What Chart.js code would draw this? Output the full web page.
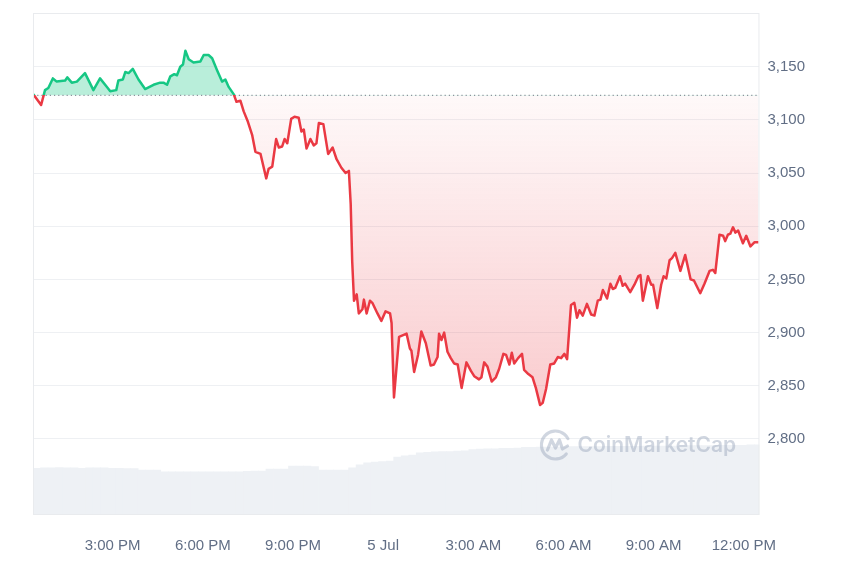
<!DOCTYPE html>
<html>
<head>
<meta charset="utf-8">
<script src="https://cdn.jsdelivr.net/npm/chart.js@4.4.1/dist/chart.umd.min.js"></script>
<style>
  html, body { margin: 0; padding: 0; background: #fff; }
  #wrap { width: 850px; height: 567px; }
</style>
</head>
<body>
<div id="wrap"><canvas id="chart" width="850" height="567"></canvas></div>
<script>
// open price of the 24h window (dotted line)
const baseline = 3123;
const xMin = 12.35, xMax = 36.52; // hours since 00:00 on 4 Jul

const priceTimes = [
  12.36, 12.62, 12.75, 12.86, 13.01, 13.14, 13.42, 13.49, 13.64, 13.81,
  14.08, 14.36, 14.58, 14.81, 14.92, 15.12, 15.19, 15.34, 15.42, 15.53,
  15.67, 15.86, 16.08, 16.36, 16.58, 16.69, 16.81, 16.92, 17.05, 17.14,
  17.25, 17.34, 17.42, 17.53, 17.69, 17.92, 18.03, 18.19, 18.31, 18.47,
  18.64, 18.75, 18.86, 19.03, 19.12, 19.25, 19.36, 19.49, 19.64, 19.75,
  19.92, 20.11, 20.19, 20.31, 20.44, 20.53, 20.64, 20.72, 20.81, 20.94,
  21.05, 21.19, 21.28, 21.36, 21.45, 21.58, 21.69, 21.78, 21.86, 22.01,
  22.17, 22.32, 22.45, 22.61, 22.75, 22.86, 22.92, 22.97, 23.03, 23.12,
  23.19, 23.31, 23.36, 23.45, 23.56, 23.64, 23.81, 23.94, 24.08, 24.23,
  24.28, 24.36, 24.53, 24.78, 24.89, 24.94, 25.03, 25.16, 25.27, 25.42,
  25.58, 25.69, 25.81, 25.86, 25.94, 26.03, 26.14, 26.25, 26.36, 26.48,
  26.61, 26.77, 26.92, 27.03, 27.19, 27.27, 27.36, 27.47, 27.61, 27.75,
  27.86, 28.00, 28.09, 28.20, 28.28, 28.36, 28.49, 28.62, 28.69, 28.83,
  28.97, 29.08, 29.22, 29.31, 29.42, 29.56, 29.69, 29.81, 29.92, 30.03,
  30.12, 30.25, 30.36, 30.45, 30.53, 30.64, 30.78, 30.92, 31.03, 31.14,
  31.23, 31.31, 31.45, 31.56, 31.64, 31.72, 31.88, 31.97, 32.05, 32.22,
  32.36, 32.49, 32.56, 32.64, 32.81, 32.92, 32.98, 33.12, 33.25, 33.33,
  33.42, 33.53, 33.61, 33.72, 33.89, 34.05, 34.23, 34.34, 34.55, 34.69,
  34.86, 34.97, 35.05, 35.19, 35.31, 35.38, 35.47, 35.55, 35.64, 35.72,
  35.81, 35.97, 36.08, 36.22, 36.36, 36.49
];
const priceValues = [
  3124, 3114, 3128, 3130, 3139, 3136, 3137, 3140, 3135, 3136,
  3144, 3128, 3139, 3131, 3127, 3128, 3137, 3138, 3145, 3144,
  3148, 3138, 3129, 3133, 3135, 3135, 3133, 3141, 3143, 3142,
  3150, 3152, 3165, 3157, 3154, 3155, 3161, 3161, 3158, 3147,
  3136, 3138, 3131, 3124, 3117, 3118, 3108, 3099, 3086, 3070,
  3068, 3045, 3054, 3056, 3082, 3074, 3075, 3082, 3078, 3101,
  3103, 3102, 3089, 3091, 3073, 3082, 3076, 3078, 3097, 3096,
  3068, 3074, 3063, 3055, 3050, 3052, 3021, 2967, 2930, 2936,
  2918, 2922, 2931, 2918, 2930, 2928, 2918, 2911, 2920, 2918,
  2909, 2839, 2896, 2899, 2885, 2883, 2863, 2879, 2901, 2890,
  2869, 2870, 2877, 2899, 2893, 2900, 2882, 2876, 2871, 2870,
  2848, 2872, 2864, 2859, 2856, 2858, 2872, 2868, 2854, 2858,
  2866, 2880, 2879, 2870, 2881, 2871, 2876, 2880, 2865, 2861,
  2858, 2848, 2832, 2834, 2847, 2870, 2871, 2877, 2876, 2880,
  2875, 2926, 2928, 2914, 2921, 2916, 2927, 2917, 2916, 2930,
  2931, 2940, 2932, 2946, 2941, 2942, 2953, 2944, 2946, 2938,
  2945, 2953, 2954, 2930, 2953, 2945, 2945, 2923, 2945, 2953,
  2951, 2968, 2970, 2975, 2958, 2973, 2950, 2949, 2937, 2946,
  2958, 2959, 2956, 2992, 2991, 2986, 2992, 2993, 2999, 2994,
  2996, 2984, 2991, 2981, 2985, 2985
];

// 24h volume (USD bn), one bar every 15 min
const volStart = 12.475, volStep = 0.25;
const volValues = [
  13.4, 13.5, 13.5, 13.6, 13.5, 13.5, 13.4, 13.5, 13.5, 13.5, 13.4, 13.4, 13.3, 13.3,
  12.9, 12.9, 12.9,
  12.4, 12.4, 12.4, 12.4, 12.4, 12.4, 12.4, 12.4, 12.4, 12.4, 12.4, 12.5,
  12.6, 12.6, 13.2, 13.2, 13.2, 14.0, 14.0, 14.0, 13.9,
  12.9, 12.9, 12.9, 12.9, 13.5, 14.4,
  15.0, 15.2, 15.3, 15.5, 16.6, 17.0, 17.2,
  17.8, 18.0, 18.1, 18.2, 18.2, 18.3, 18.4,
  18.8, 18.9, 19.0, 19.0, 19.1, 19.1, 19.2,
  19.4, 19.4, 19.5, 19.5, 19.5, 19.5, 19.6, 19.6, 19.6, 19.6,
  19.6, 19.7, 19.7, 19.7, 19.7, 19.7, 19.8, 19.8, 19.8, 19.8,
  19.8, 19.8, 19.9, 19.9, 19.9, 19.9, 20.0, 20.0, 20.0, 20.0,
  20.1, 20.1
];

const yTicks = [2800, 2850, 2900, 2950, 3000, 3050, 3100, 3150];
const xTicks = [15, 18, 21, 24, 27, 30, 33, 36];
const xLabels = ['3:00 PM', '6:00 PM', '9:00 PM', '5 Jul', '3:00 AM', '6:00 AM', '9:00 AM', '12:00 PM'];

const C = {
  green: '#16c784', red: '#ea3943',
  grid: '#eef0f3', frame: '#e9ebee', text: '#616e85', vol: '#eef1f5',
  font: "'Liberation Sans', Arial, sans-serif"
};

function splitColor(ctx) {
  const chart = ctx.chart, area = chart.chartArea;
  if (!area) return C.red;
  const y = chart.scales.y.getPixelForValue(baseline);
  const off = Math.min(Math.max((y - area.top) / (area.bottom - area.top), 0), 1);
  const g = chart.ctx.createLinearGradient(0, area.top, 0, area.bottom);
  g.addColorStop(0, C.green); g.addColorStop(off, C.green);
  g.addColorStop(off, C.red); g.addColorStop(1, C.red);
  return g;
}

function priceFill(ctx) {
  const chart = ctx.chart, area = chart.chartArea;
  const fill = { target: { value: baseline }, above: 'rgba(22,199,132,0.3)', below: 'rgba(234,57,67,0.12)' };
  if (!area) return fill;
  const y = chart.scales.y.getPixelForValue(baseline);
  const g = chart.ctx.createLinearGradient(0, y, 0, area.bottom);
  g.addColorStop(0, 'rgba(234,57,67,0.03)');
  g.addColorStop(1, 'rgba(234,57,67,0.34)');
  fill.below = g;
  return fill;
}

const frame = {
  id: 'frame',
  afterDraw(chart) {
    const { ctx, chartArea: a } = chart;
    ctx.save();
    ctx.strokeStyle = C.frame; ctx.lineWidth = 1;
    ctx.strokeRect(a.left + 0.5, a.top + 0.5, a.right - a.left - 1, a.bottom - a.top - 1);
    ctx.restore();
  }
};

const watermark = {
  id: 'watermark',
  afterDatasetsDraw(chart) {
    const { ctx, chartArea: a } = chart;
    const col = 'rgba(150,163,187,0.45)';
    const cx = a.right - 204, cy = a.bottom - 70;
    ctx.save();
    ctx.strokeStyle = col; ctx.fillStyle = col;
    ctx.lineWidth = 3.2; ctx.lineCap = 'round'; ctx.lineJoin = 'round';
    ctx.beginPath(); ctx.arc(cx, cy, 14, 0.22 * Math.PI, 1.85 * Math.PI); ctx.stroke();
    ctx.beginPath();
    ctx.moveTo(cx - 8, cy + 5); ctx.lineTo(cx - 4, cy - 5); ctx.lineTo(cx, cy + 3);
    ctx.lineTo(cx + 4, cy - 5); ctx.lineTo(cx + 7, cy + 4); ctx.lineTo(cx + 12, cy + 1);
    ctx.stroke();
    ctx.font = "600 21px Inter, 'Liberation Sans', sans-serif";
    ctx.textBaseline = 'middle';
    ctx.fillText('CoinMarketCap', cx + 22, cy + 1);
    ctx.restore();
  }
};

new Chart(document.getElementById('chart'), {
  type: 'line',
  data: {
    datasets: [
      {
        label: 'Price', yAxisID: 'y',
        data: priceTimes.map((t, i) => ({ x: t, y: priceValues[i] })),
        borderColor: splitColor, borderWidth: 2.5, borderJoinStyle: 'round',
        pointRadius: 0, tension: 0, fill: priceFill
      },
      {
        label: 'Open', yAxisID: 'y',
        data: [{ x: xMin, y: baseline }, { x: xMax, y: baseline }],
        borderColor: '#8c929c', borderWidth: 1.2, borderDash: [1.2, 3],
        pointRadius: 0, fill: false
      },
      {
        type: 'bar', label: 'Volume', yAxisID: 'yVol',
        data: volValues.map((v, i) => ({ x: volStart + i * volStep, y: v })),
        backgroundColor: C.vol, barPercentage: 1, categoryPercentage: 1, borderWidth: 0
      }
    ]
  },
  options: {
    responsive: false, animation: false, devicePixelRatio: 1,
    layout: { padding: { left: 33, top: 13, right: 37, bottom: -10 } },
    plugins: {
      legend: { display: false }, tooltip: { enabled: false },
      filler: { drawTime: 'beforeDatasetsDraw' }
    },
    scales: {
      x: {
        type: 'linear', min: xMin, max: xMax, offset: false,
        grid: { display: false, offset: false, drawTicks: false }, border: { display: false },
        afterBuildTicks: s => { s.ticks = xTicks.map(v => ({ value: v })); },
        ticks: {
          color: C.text, font: { family: C.font, size: 15 }, padding: 22,
          maxRotation: 0, autoSkip: false,
          callback: v => xLabels[xTicks.indexOf(v)]
        }
      },
      y: {
        type: 'linear', position: 'right', min: 2728.5, max: 3200.5,
        grid: { color: C.grid, drawTicks: false }, border: { display: false },
        afterBuildTicks: s => { s.ticks = yTicks.map(v => ({ value: v })); },
        ticks: {
          color: C.text, font: { family: C.font, size: 15, lineHeight: 0.6 }, padding: 8,
          callback: v => v.toLocaleString('en-US')
        }
      },
      yVol: { type: 'linear', display: false, min: 0, max: 144 }
    }
  },
  plugins: [watermark, frame]
});
</script>
</body>
</html>
